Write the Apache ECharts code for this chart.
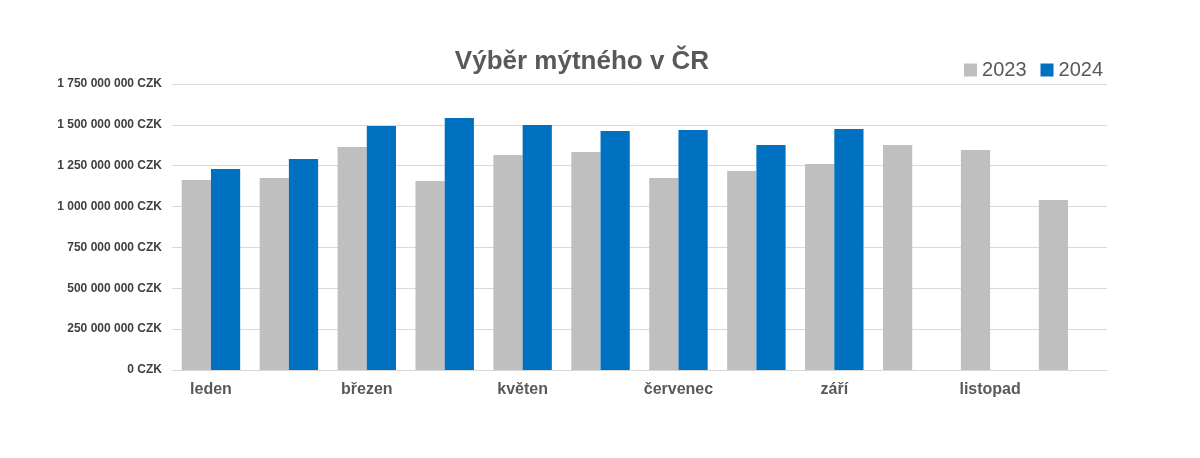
<!DOCTYPE html>
<html>
<head>
<meta charset="utf-8">
<script src="https://cdn.jsdelivr.net/npm/echarts@6/dist/echarts.min.js"></script>
<style>html,body{margin:0;padding:0;background:#fff}#chart{width:1200px;height:458px}</style>
</head>
<body>
<div id="chart"></div>
<script>
const months = ['leden', 'únor', 'březen', 'duben', 'květen', 'červen', 'červenec', 'srpen', 'září', 'říjen', 'listopad', 'prosinec']
const v2023 = [1162e6, 1175e6, 1364e6, 1157e6, 1316e6, 1334e6, 1175e6, 1218e6, 1260e6, 1377e6, 1346e6, 1040e6]
const v2024 = [1230e6, 1291e6, 1493e6, 1542e6, 1499e6, 1462e6, 1469e6, 1377e6, 1475e6, null, null, null]

// čísla s mezerami po tisících
const fmt = v => String(v).replace(/\B(?=(\d{3})+(?!\d))/g, ' ') + ' CZK'

var myChart = echarts.init(document.getElementById('chart'))
var option = {
  animation: false,
  title: {
    text: 'Výběr mýtného v ČR',
    left: 577, top: 44, textAlign: 'center',
    textStyle: { fontFamily: 'Liberation Sans', fontSize: 26, fontWeight: 'bold', color: '#595959' }
  },
  legend: {
    right: 92, top: 55, itemWidth: 13, itemHeight: 13, itemGap: 14,
    icon: 'rect',
    textStyle: { fontFamily: 'Liberation Sans', fontSize: 20, color: '#595959' },
    data: ['2023', '2024']
  },
  grid: { left: 172, right: 93, top: 84, bottom: 88 },
  xAxis: {
    type: 'category',
    data: months,
    axisTick: { show: false },
    axisLine: { lineStyle: { color: '#d9d9d9' } },
    axisLabel: { fontFamily: 'Liberation Sans', fontSize: 16, fontWeight: 'bold', color: '#595959', margin: 12 }
  },
  yAxis: {
    type: 'value',
    min: 0, max: 1750000000, interval: 250000000,
    splitLine: { lineStyle: { color: '#d9d9d9' } },
    axisLabel: { fontFamily: 'Liberation Sans', fontSize: 12, fontWeight: 'bold', color: '#404040', margin: 10, formatter: fmt }
  },
  series: [
    { name: '2023', type: 'bar', data: v2023, itemStyle: { color: '#bfbfbf' }, barGap: '0%', barCategoryGap: '25%' },
    { name: '2024', type: 'bar', data: v2024, itemStyle: { color: '#0070c0' } }
  ]
}
myChart.setOption(option)
</script>
</body>
</html>
